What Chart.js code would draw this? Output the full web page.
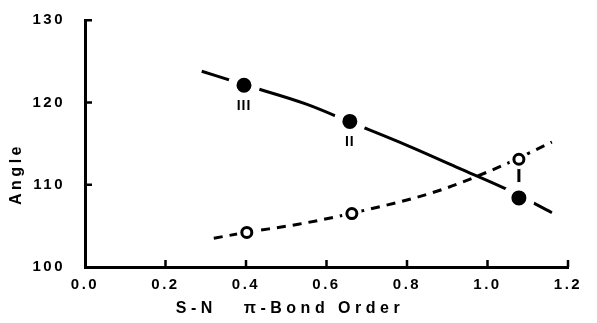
<!DOCTYPE html>
<html>
<head>
<meta charset="utf-8">
<script src="https://cdn.jsdelivr.net/npm/chart.js@4.4.0/dist/chart.umd.min.js"></script>
<style>
  html, body { margin: 0; padding: 0; background: #fff; }
  canvas { display: block; }
</style>
</head>
<body>
<canvas id="chart" width="597" height="323"></canvas>
<script>
// Angle vs S-N pi-bond order
const upperCurveX = [0.29, 0.40, 0.55, 0.66, 0.80, 0.93, 1.05, 1.16];
const upperCurveY = [123.8, 122.1, 119.8, 117.6, 114.8, 112.0, 109.4, 106.6];
const lowerCurveX = [0.32, 0.40, 0.53, 0.66, 0.88, 1.04, 1.16];
const lowerCurveY = [103.5, 104.2, 105.2, 106.5, 109.3, 112.4, 115.2];

const filledX = [0.395, 0.658, 1.078];
const filledY = [122.1, 117.7, 108.4];
const filledLabels = ['III', 'II', ''];
const openX = [0.402, 0.663, 1.078];
const openY = [104.2, 106.5, 113.1];

const xTitle = 'S-N   \u03c0-Bond Order';
const yTitle = 'Angle';

const FONT = "'Liberation Sans', Arial, sans-serif";
const pts = (xs, ys) => xs.map((x, i) => ({x: x, y: ys[i]}));

// short bar joining the open and filled marker that share an x value
const connector = [
    {x: filledX[2], y: openY[2]},
    {x: filledX[2], y: filledY[2]}
];

const decor = {
    id: 'decor',
    beforeDraw(chart) {
        chart.ctx.letterSpacing = '2.5px';
    },
    afterDraw(chart) {
        const ctx = chart.ctx;
        const a = chart.chartArea;
        const xs = chart.scales.x, ys = chart.scales.y;
        ctx.save();
        ctx.strokeStyle = '#000';
        ctx.lineWidth = 2.5;
        ctx.beginPath();
        ys.ticks.forEach(t => {
            if (t.value === ys.min) return;
            const py = ys.getPixelForValue(t.value);
            ctx.moveTo(a.left, py);
            ctx.lineTo(a.left + 7, py);
        });
        xs.ticks.forEach(t => {
            if (t.value === xs.min) return;
            const px = xs.getPixelForValue(t.value);
            ctx.moveTo(px, a.bottom);
            ctx.lineTo(px, a.bottom - 7);
        });
        ctx.stroke();

        // roman numeral labels under the filled points
        const meta = chart.getDatasetMeta(4);
        ctx.fillStyle = '#000';
        ctx.font = 'bold 14px ' + FONT;
        ctx.letterSpacing = '1px';
        ctx.textAlign = 'center';
        ctx.textBaseline = 'middle';
        meta.data.forEach((p, i) => {
            if (filledLabels[i]) ctx.fillText(filledLabels[i], p.x, p.y + 21);
        });

        // axis titles
        ctx.font = 'bold 16px ' + FONT;
        ctx.letterSpacing = '4.5px';
        ctx.fillText(xTitle, 290, 309);
        ctx.translate(17, 176);
        ctx.rotate(-Math.PI / 2);
        ctx.letterSpacing = '3.5px';
        ctx.fillText(yTitle, 2, 0);
        ctx.restore();
    }
};

new Chart(document.getElementById('chart'), {
    type: 'scatter',
    data: {
        datasets: [
            {
                type: 'line', data: pts(upperCurveX, upperCurveY),
                borderColor: '#000', borderWidth: 3, pointRadius: 0,
                cubicInterpolationMode: 'monotone', order: 10
            },
            {
                type: 'line', data: pts(lowerCurveX, lowerCurveY),
                borderColor: '#000', borderWidth: 3, borderDash: [9, 7], pointRadius: 0,
                cubicInterpolationMode: 'monotone', order: 10
            },
            {
                type: 'line', data: connector,
                borderColor: '#000', borderWidth: 3, pointRadius: 0, order: 9
            },
            {
                // white halo around open markers
                data: pts(openX, openY), pointRadius: 10,
                pointBackgroundColor: '#fff', pointBorderWidth: 0, order: 5
            },
            {
                // filled markers, white border makes the gap in the curve
                data: pts(filledX, filledY), pointRadius: 11.75,
                pointBackgroundColor: '#000', pointBorderColor: '#fff', pointBorderWidth: 8.5, order: 2
            },
            {
                data: pts(openX, openY), pointRadius: 5,
                pointBackgroundColor: '#fff', pointBorderColor: '#000', pointBorderWidth: 3, order: 1
            }
        ]
    },
    options: {
        responsive: false,
        animation: false,
        events: [],
        layout: { padding: { top: 19, right: 29, left: 0, bottom: 0 } },
        plugins: { legend: { display: false }, tooltip: { enabled: false } },
        scales: {
            x: {
                type: 'linear', min: 0, max: 1.2,
                afterFit: s => { s.height = 56; s.paddingTop = 0; s.paddingBottom = 0; },
                grid: { display: false, drawTicks: false },
                border: { display: true, color: '#000', width: 3 },
                ticks: {
                    stepSize: 0.2, padding: 9, color: '#000',
                    font: { family: FONT, size: 15, weight: 'bold' },
                    callback: v => v.toFixed(1)
                }
            },
            y: {
                min: 100, max: 130,
                afterFit: s => { s.width = 85; s.paddingTop = 0; s.paddingBottom = 0; },
                grid: { display: false, drawTicks: false },
                border: { display: true, color: '#000', width: 3 },
                ticks: {
                    stepSize: 10, padding: 20, color: '#000',
                    font: { family: FONT, size: 15, weight: 'bold' }
                }
            }
        }
    },
    plugins: [decor]
});
</script>
</body>
</html>
